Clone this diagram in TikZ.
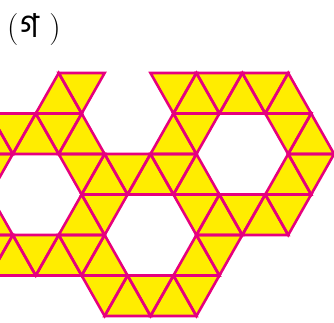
\documentclass[tikz,border=0pt]{standalone}
\usepackage{fontspec}
\newfontfamily\bngfont[Script=Bengali]{Hind Siliguri}
\definecolor{triyellow}{RGB}{255,237,0}
\definecolor{trimagenta}{RGB}{230,0,126}
\tikzset{
  trifill/.style={fill=triyellow},
  triedge/.style={draw=trimagenta,line width=2.6pt,line join=miter},
  labeltext/.style={inner sep=0pt,font=\fontsize{32}{32}\selectfont}
}
\newcommand{\hs}{22.95}
\newcommand{\rowh}{40.5}
\newcommand{\xo}{12.8}
\newcommand{\yo}{73}
% #1 = style, #2 = m (half-step column), #3 = k (band)
\newcommand{\mytri}[3]{%
  \pgfmathsetmacro{\xl}{\xo+\hs*(#2-1)}%
  \pgfmathsetmacro{\xc}{\xo+\hs*(#2)}%
  \pgfmathsetmacro{\xr}{\xo+\hs*(#2+1)}%
  \pgfmathsetmacro{\yt}{\yo+\rowh*(#3)}%
  \pgfmathsetmacro{\yb}{\yo+\rowh*(#3+1)}%
  \pgfmathtruncatemacro{\pty}{mod(#2+#3+100,2)}%
  \ifnum\pty=0
    \path[#1] (\xc,\yt) -- (\xl,\yb) -- (\xr,\yb) -- cycle;
  \else
    \path[#1] (\xl,\yt) -- (\xr,\yt) -- (\xc,\yb) -- cycle;
  \fi
}
\newcommand{\alltris}[1]{%
  \foreach \k/\ms in {0/{2,3,7,8,9,10,11,12},
                      1/{-1,0,1,2,3,7,8,12,13},
                      2/{-1,3,4,5,6,7,8,12,13},
                      3/{-1,3,4,8,9,10,11,12},
                      4/{-1,0,1,2,3,4,8,9},
                      5/{4,5,6,7,8}}{%
    \foreach \m in \ms {\mytri{#1}{\m}{\k}}%
  }%
}
\begin{document}
\begin{tikzpicture}[x=1pt,y=-1pt]
  \useasboundingbox (0,0) rectangle (334,322);
  \begin{scope}
    \clip (0,0) rectangle (334,322);
    \alltris{trifill}
    \alltris{triedge}
  \end{scope}
  \node[labeltext,anchor=base west] (lbl) at (7,37)
    {(\hspace{2pt}{\bngfont\fontsize{33}{33}\selectfont গ}\hspace{10pt})};
\end{tikzpicture}
\end{document}
